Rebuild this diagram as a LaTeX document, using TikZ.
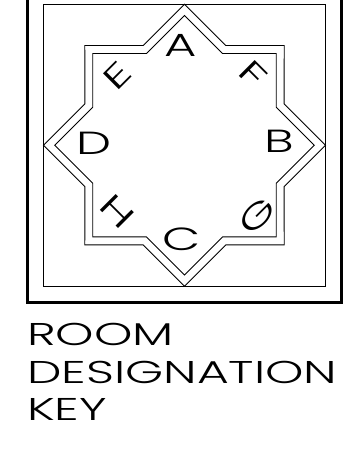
\documentclass[tikz,border=0pt]{standalone}
\usepackage{fontspec}
\newfontfamily\keyfont[FakeStretch=1.55]{Poppins Light}
\usetikzlibrary{positioning}

\begin{document}
\begin{tikzpicture}[
        x=1pt, y=-1pt,
        thinline/.style={draw, line width=0.9pt},
        frameline/.style={draw, line width=3pt},
        roomletter/.style={inner sep=0pt, font=\keyfont\fontsize{32}{32}\selectfont},
        keyline/.style={anchor=base west, inner sep=0pt, font=\keyfont\fontsize{31.5}{31.5}\selectfont}
      ]
        \useasboundingbox (0,0) rectangle (346,461);
        % outer frame, its top runs off the sheet
        \draw[frameline] (27.5,-10) rectangle (341.7,302);
        \draw[thinline] (43.3,4.3) rectangle (325.7,286);
        % the eight pointed star, drawn twice
        \begin{scope}[shift={(184.5,145.2)}]
          \draw[thinline] (0:141) \foreach \k in {0,...,7} { -- (45*\k+22.5:107.9) -- (45*\k+45:141) } -- cycle;
          \draw[thinline] (0:129.7) \foreach \k in {0,...,7} { -- (45*\k+22.5:99.3) -- (45*\k+45:129.7) } -- cycle;
        \end{scope}
        % rooms
        \node[roomletter] (roomA) at (181,45) {A};
        \node[roomletter] (roomB) at (279,141) {B};
        \node[roomletter] (roomC) at (182,239) {C};
        \node[roomletter] (roomD) at (94,143) {D};
        \node[roomletter, rotate=45] (roomE) at (117,76) {E};
        \node[roomletter, rotate=-45] (roomF) at (253,74) {F};
        \node[roomletter, rotate=45] (roomG) at (257,216) {G};
        \node[roomletter, rotate=-45] (roomH) at (117,211) {H};
        % title
        \node[keyline] (room) at (27,345.7) {ROOM};
        \node[keyline] (design) at (27,383.3) {DESIGNATION};
        \node[keyline] (key) at (27,420.7) {KEY};
      \end{tikzpicture}
\end{document}
